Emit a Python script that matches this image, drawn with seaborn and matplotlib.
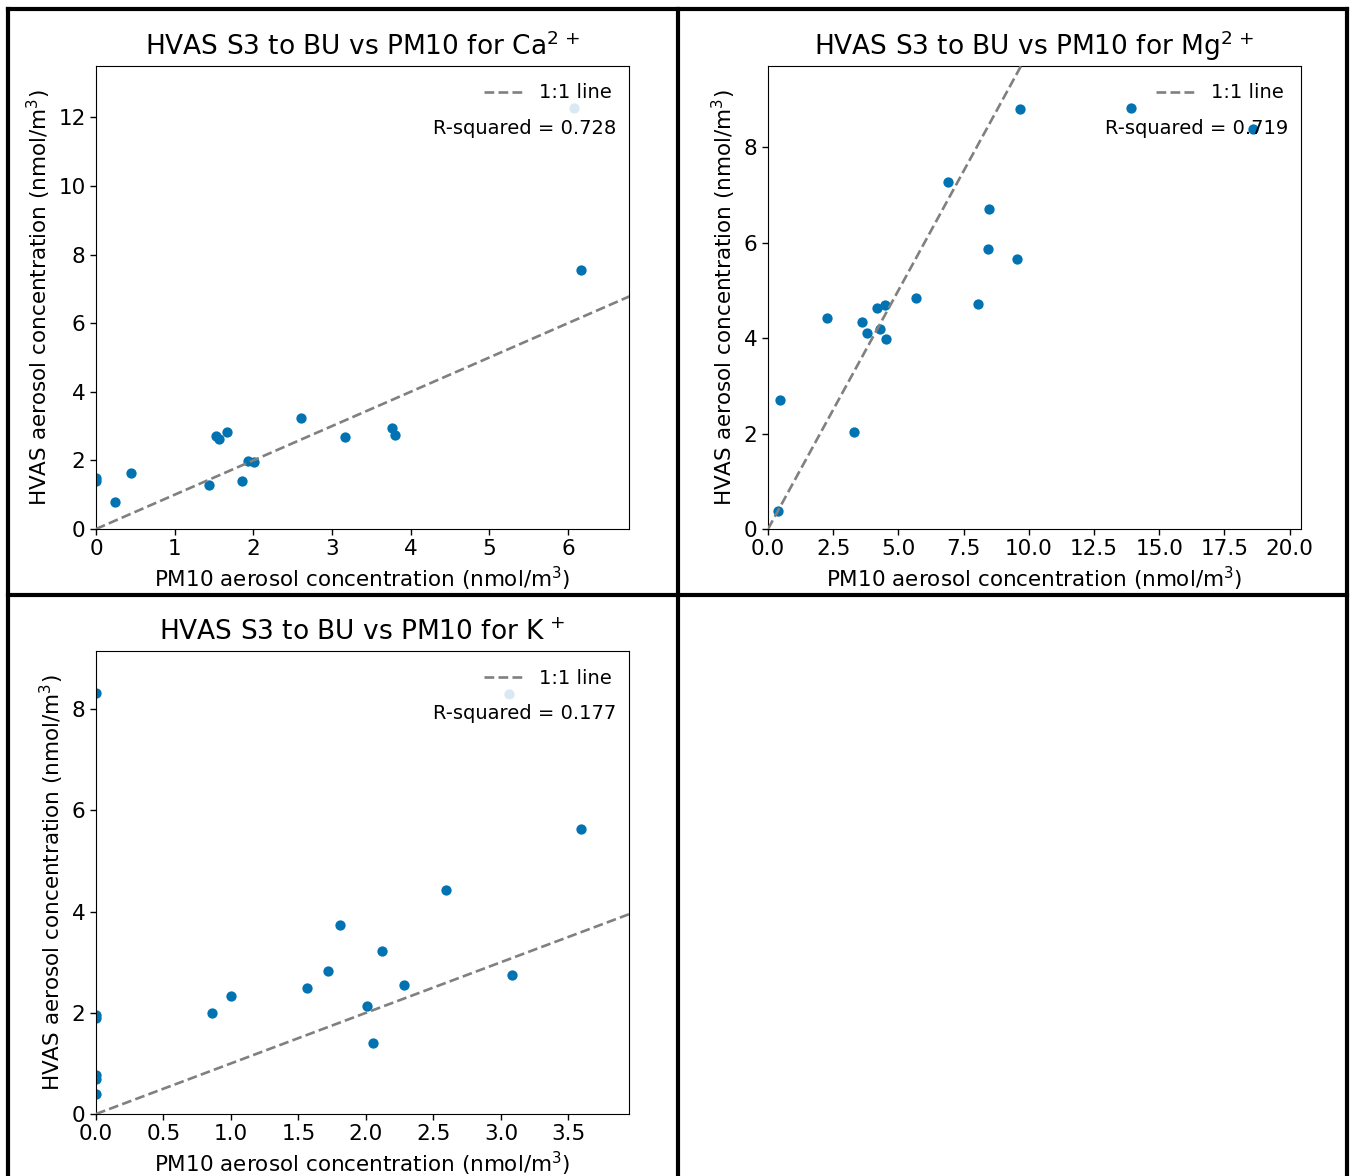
import matplotlib
matplotlib.use("Agg")
import matplotlib.pyplot as plt
from matplotlib.lines import Line2D
from matplotlib.ticker import MultipleLocator, FormatStrFormatter
import seaborn as sns
import pandas as pd

# ---------------- data ----------------
ca_pm10 = [0.0, 0.0, 0.24, 0.45, 1.44, 1.52, 1.56, 1.67, 1.86, 1.93, 2.01, 2.61, 3.17, 3.76, 3.80, 6.08, 6.16]
ca_hvas = [1.50, 1.41, 0.80, 1.62, 1.27, 2.72, 2.63, 2.83, 1.40, 1.98, 1.95, 3.24, 2.68, 2.94, 2.73, 12.27, 7.55]

mg_pm10 = [0.38, 0.46, 2.28, 3.28, 3.61, 3.80, 4.17, 4.30, 4.48, 4.52, 5.69, 6.90, 8.06, 8.42, 8.49, 9.55, 9.66, 13.93, 18.58]
mg_hvas = [0.38, 2.70, 4.43, 2.03, 4.34, 4.10, 4.63, 4.19, 4.69, 3.98, 4.85, 7.28, 4.72, 5.86, 6.70, 5.66, 8.81, 8.82, 8.38]

k_pm10 = [0.0, 0.0, 0.0, 0.0, 0.0, 0.0, 0.86, 1.00, 1.56, 1.72, 1.81, 2.01, 2.05, 2.12, 2.28, 2.59, 3.06, 3.08, 3.59]
k_hvas = [8.32, 1.95, 1.90, 0.78, 0.69, 0.40, 1.99, 2.33, 2.50, 2.83, 3.73, 2.13, 1.41, 3.23, 2.55, 4.42, 8.31, 2.74, 5.64]

titles = [r"HVAS S3 to BU vs PM10 for Ca$^{2\,+}$",
          r"HVAS S3 to BU vs PM10 for Mg$^{2\,+}$",
          r"HVAS S3 to BU vs PM10 for K$^{\,+}$"]
r_squared = ["0.728", "0.719", "0.177"]
x_tick_steps = [1, 2.5, 0.5]
x_tick_formats = ["%d", "%.1f", "%.1f"]
xlabel = r"PM10 aerosol concentration (nmol/m$^3$)"
ylabel = r"HVAS aerosol concentration (nmol/m$^3$)"
line_label = "1:1 line"

# ---------------- style ----------------
sns.set_style("ticks", {"axes.edgecolor": "black", "text.color": "black",
                        "xtick.color": "black", "ytick.color": "black",
                        "axes.labelcolor": "black"})
plt.rcParams["font.family"] = ["DejaVu Sans"]
plt.rcParams["mathtext.default"] = "regular"

W, H = 1354, 1176
fig = plt.figure(figsize=(W / 100, H / 100), dpi=100)
fig.patch.set_facecolor("white")

def ax_rect(left, top, right, bottom):
    return [left / W, 1 - bottom / H, (right - left) / W, (bottom - top) / H]

rects = [ax_rect(96, 66, 629, 529), ax_rect(768, 66, 1301, 529), ax_rect(96, 651, 629, 1114)]
datasets = [(ca_pm10, ca_hvas), (mg_pm10, mg_hvas), (k_pm10, k_hvas)]
point_color = sns.color_palette("colorblind")[0]

for rect, (xs, ys), title, r2, step, fmt in zip(rects, datasets, titles, r_squared,
                                               x_tick_steps, x_tick_formats):
    ax = fig.add_axes(rect)
    df = pd.DataFrame({"pm10": xs, "hvas": ys})
    sns.scatterplot(data=df, x="pm10", y="hvas", ax=ax, color=point_color,
                    s=55, linewidth=0, zorder=2)
    xmax = max(xs) * 1.1
    ymax = max(ys) * 1.1
    big = max(xmax, ymax)
    ax.plot([0, big], [0, big], linestyle="--", color="gray", linewidth=1.9,
            label=line_label, zorder=3)
    ax.set_xlim(0, xmax)
    ax.set_ylim(0, ymax)
    ax.xaxis.set_major_locator(MultipleLocator(step))
    ax.xaxis.set_major_formatter(FormatStrFormatter(fmt))
    ax.yaxis.set_major_locator(MultipleLocator(2))
    ax.set_title(title, fontsize=19, pad=8)
    ax.set_xlabel(xlabel, fontsize=15.5, labelpad=4)
    ax.set_ylabel(ylabel, fontsize=15.5, labelpad=4)
    ax.tick_params(labelsize=15.5, length=4, width=1)
    for sp in ax.spines.values():
        sp.set_linewidth(0.8)
    ax.legend(loc="upper right", fontsize=14, frameon=True, framealpha=0.85,
              edgecolor="white", borderpad=0.6, borderaxespad=0.3)
    ax.text(0.977, 0.864, f"R-squared = {r2}", transform=ax.transAxes,
            ha="right", va="center", fontsize=14, zorder=6)

# ---------------- panel borders ----------------
lw = 3.0
def fline(x0, y0, x1, y1):
    fig.add_artist(Line2D([x0 / W, x1 / W], [1 - y0 / H, 1 - y1 / H],
                          transform=fig.transFigure, color="black", linewidth=lw,
                          solid_capstyle="projecting"))

fline(7.5, 8.5, 1347, 8.5)
fline(7.5, 594.5, 1347, 594.5)
fline(7.5, 8.5, 7.5, 1180)
fline(677.5, 8.5, 677.5, 1180)
fline(1347, 8.5, 1347, 1180)

fig.savefig("out.png", dpi=100, facecolor="white")
